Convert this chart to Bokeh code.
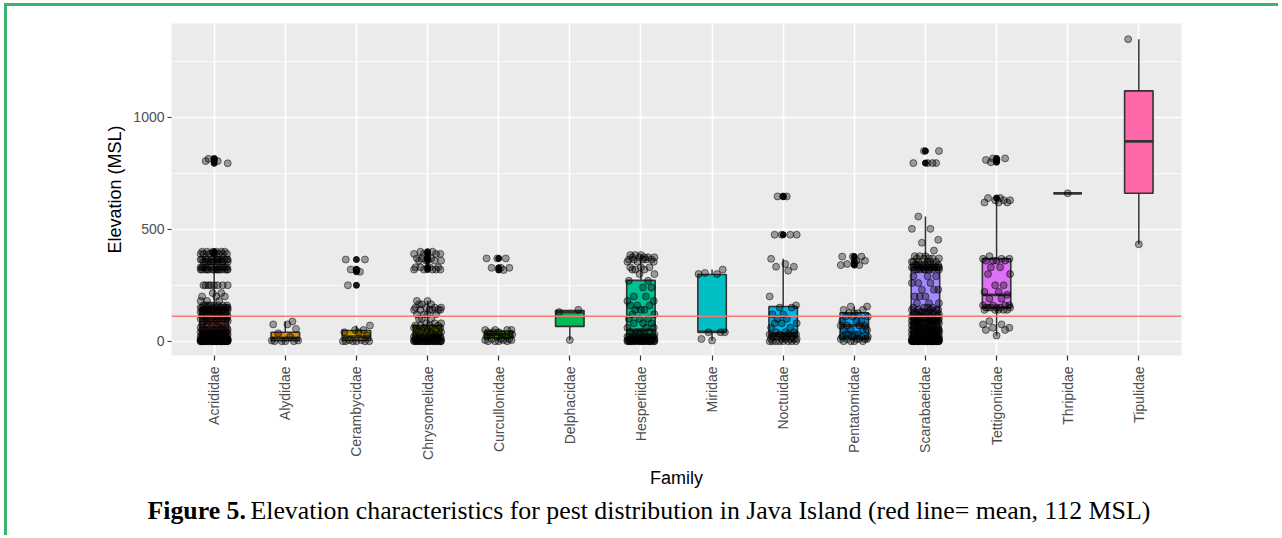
import numpy as np
from bokeh.plotting import figure
from bokeh.models import FixedTicker, Span, ColumnDataSource
from bokeh.core.properties import value
from bokeh.embed import file_html
from bokeh.resources import INLINE

# ---------------- data ----------------
FAMILIES = ["Acrididae", "Alydidae", "Cerambycidae", "Chrysomelidae", "Curcullonidae",
            "Delphacidae", "Hesperiidae", "Miridae", "Noctuidae", "Pentatomidae",
            "Scarabaeidae", "Tettigoniidae", "Thripidae", "Tipulidae"]
BOX_COLORS = ["#F8766D", "#E38900", "#C49A00", "#99A800", "#53B400", "#00BC56", "#00C094",
              "#00BFC4", "#00B6EB", "#06A4FF", "#A58AFF", "#DF70F8", "#FB61D7", "#FF66A8"]

# boxplot statistics (elevation, MSL)
Q1 = [5, 2, 3, 5, 15, 66, 8, 40, 22, 10, 5, 150, 661, 661]
MEDIAN = [40, 15, 20, 25, 30, 130, 50, 42, 35, 70, 90, 207, 661, 893]
Q3 = [150, 40, 48, 70, 45, 137, 272, 298, 155, 127, 330, 368, 661, 1119]
WHISK_LO = [0, 0, 0, 0, 0, 5, 0, 3, 0, 0, 0, 25, 661, 433]
WHISK_HI = [365, 88, 70, 180, 55, 140, 386, 320, 368, 155, 557, 633, 661, 1350]

MEAN_ELEVATION = 112

CAPTION_BOLD = "Figure 5."
CAPTION_TEXT = "Elevation characteristics for pest distribution in Java Island (red line= mean, 112 MSL)"

# observed points: elevation values and how many points sit at each
ACRIDIDAE_V = [0, 5, 10, 20, 30, 40, 50, 60, 75, 90, 100, 110, 120, 130, 140, 150, 160, 180, 200,
               215, 250, 320, 330, 355, 365, 390, 400, 795, 805, 815]
ACRIDIDAE_N = [30, 20, 15, 12, 10, 8, 8, 6, 6, 6, 8, 6, 6, 8, 8, 10, 8, 3, 3,
               2, 8, 14, 10, 10, 12, 8, 6, 1, 2, 2]
ALYDIDAE_V = [0, 3, 20, 35, 55, 75, 88]
ALYDIDAE_N = [4, 2, 1, 1, 1, 2, 1]
CERAMBYCIDAE_V = [0, 5, 25, 40, 50, 70, 250, 310, 320, 365]
CERAMBYCIDAE_N = [6, 2, 1, 2, 2, 1, 1, 1, 2, 2]
CHRYSOMELIDAE_V = [0, 5, 10, 20, 30, 40, 50, 60, 70, 80, 100, 120, 140, 150, 165, 180,
                   320, 330, 360, 370, 390, 400]
CHRYSOMELIDAE_N = [22, 8, 6, 6, 4, 4, 4, 4, 4, 3, 3, 4, 6, 4, 3, 2,
                   5, 4, 4, 4, 4, 2]
CURCULLONIDAE_V = [0, 5, 10, 20, 30, 40, 50, 318, 328, 370]
CURCULLONIDAE_N = [4, 3, 3, 3, 3, 3, 4, 1, 3, 3]
DELPHACIDAE_V = [5, 130, 140]
DELPHACIDAE_N = [1, 1, 1]
HESPERIIDAE_V = [0, 5, 10, 20, 30, 40, 60, 80, 100, 120, 140, 160, 180, 200, 240, 270,
                 300, 320, 330, 355, 365, 375, 385]
HESPERIIDAE_N = [20, 10, 8, 8, 5, 4, 3, 3, 3, 2, 3, 3, 2, 2, 2, 2,
                 2, 3, 3, 3, 5, 5, 3]
MIRIDAE_V = [3, 10, 40, 300, 305, 320]
MIRIDAE_N = [1, 1, 3, 2, 1, 1]
NOCTUIDAE_V = [0, 10, 20, 30, 40, 60, 80, 100, 120, 150, 160, 200, 315, 333, 345, 368, 476, 647]
NOCTUIDAE_N = [8, 6, 6, 4, 3, 2, 3, 2, 2, 2, 1, 1, 1, 2, 1, 1, 4, 3]
PENTATOMIDAE_V = [0, 10, 20, 30, 50, 70, 90, 110, 125, 140, 155, 340, 345, 360, 378]
PENTATOMIDAE_N = [4, 6, 4, 4, 4, 4, 3, 3, 3, 2, 2, 2, 1, 2, 3]
SCARABAEIDAE_V = [0, 5, 10, 20, 30, 40, 50, 60, 70, 80, 90, 100, 110, 120, 130, 140, 150,
                  170, 200, 230, 260, 290, 320, 330, 340, 355, 370, 380, 405, 440, 453,
                  502, 557, 796, 850]
SCARABAEIDAE_N = [30, 15, 12, 12, 10, 10, 10, 8, 8, 8, 8, 8, 6, 6, 6, 5, 4,
                  3, 3, 3, 3, 3, 8, 12, 8, 6, 5, 3, 1, 1, 1,
                  2, 1, 4, 2]
TETTIGONIIDAE_V = [25, 50, 60, 75, 90, 140, 150, 160, 190, 207, 220, 250, 300, 330, 360, 368,
                   380, 620, 630, 640, 800, 810, 817]
TETTIGONIIDAE_N = [1, 2, 2, 2, 1, 5, 6, 4, 2, 1, 2, 2, 2, 2, 4, 3,
                   1, 3, 3, 2, 1, 2, 2]
THRIPIDAE_V = [661]
THRIPIDAE_N = [1]
TIPULIDAE_V = [433, 1350]
TIPULIDAE_N = [1, 1]

POINT_TABLES = [
    (ACRIDIDAE_V, ACRIDIDAE_N), (ALYDIDAE_V, ALYDIDAE_N), (CERAMBYCIDAE_V, CERAMBYCIDAE_N),
    (CHRYSOMELIDAE_V, CHRYSOMELIDAE_N), (CURCULLONIDAE_V, CURCULLONIDAE_N),
    (DELPHACIDAE_V, DELPHACIDAE_N), (HESPERIIDAE_V, HESPERIIDAE_N), (MIRIDAE_V, MIRIDAE_N),
    (NOCTUIDAE_V, NOCTUIDAE_N), (PENTATOMIDAE_V, PENTATOMIDAE_N),
    (SCARABAEIDAE_V, SCARABAEIDAE_N), (TETTIGONIIDAE_V, TETTIGONIIDAE_N),
    (THRIPIDAE_V, THRIPIDAE_N), (TIPULIDAE_V, TIPULIDAE_N),
]

# fixed horizontal spread pattern for the jittered points (fraction of a category)
SPREAD = [0.0, -0.15, 0.12, -0.05, 0.18, -0.19, 0.07, -0.10, 0.15, 0.03,
          -0.17, 0.10, -0.02, 0.19, -0.12, 0.05, -0.08]

# ---------------- build sources ----------------
xs = list(range(1, len(FAMILIES) + 1))
box_src = ColumnDataSource(dict(x=xs, q1=Q1, med=MEDIAN, q3=Q3, lo=WHISK_LO, hi=WHISK_HI,
                                color=BOX_COLORS,
                                left=[x - 0.2 for x in xs], right=[x + 0.2 for x in xs]))

px, py, ox, oy = [], [], [], []
for i, (vals, cnts) in enumerate(POINT_TABLES):
    k = 0
    for v, c in zip(vals, cnts):
        if v < WHISK_LO[i] or v > WHISK_HI[i]:
            ox.append(i + 1)
            oy.append(v)
        for _ in range(c):
            px.append(i + 1 + SPREAD[k % len(SPREAD)])
            py.append(v)
            k += 1

W = 1274
GREEN = "#3CB371"

# ---------------- main figure ----------------
p = figure(width=W, height=489, x_range=(0.4, 14.6), y_range=(-64, 1420),
           output_backend="svg", toolbar_location=None,
           min_border_left=164, min_border_right=W - 1174, min_border_top=17, min_border_bottom=140,
           background_fill_color="#EBEBEB", border_fill_color="white", outline_line_color=None)
p.styles = {"border-top": f"3px solid {GREEN}", "border-left": f"3px solid {GREEN}",
            "margin-left": "4px", "margin-top": "3px"}

xt = FixedTicker(ticks=xs)
yt = FixedTicker(ticks=[0, 500, 1000], minor_ticks=[250, 750, 1250])
p.xaxis.ticker = xt
p.yaxis.ticker = yt
p.xgrid.ticker = xt
p.ygrid.ticker = yt
p.xgrid.grid_line_color = "white"
p.xgrid.grid_line_width = 1.6
p.ygrid.grid_line_color = "white"
p.ygrid.grid_line_width = 1.6
p.ygrid.minor_grid_line_color = "white"
p.ygrid.minor_grid_line_width = 0.8

p.xaxis.major_label_overrides = {x: f for x, f in zip(xs, FAMILIES)}
p.xaxis.major_label_orientation = np.pi / 2
for ax in (p.xaxis, p.yaxis):
    ax.axis_line_color = None
    ax.major_tick_line_color = "#333333"
    ax.major_tick_line_width = 1.2
    ax.major_tick_in = 0
    ax.minor_tick_line_color = None
    ax.major_label_text_font = "Liberation Sans"
    ax.major_label_text_font_size = "14px"
    ax.major_label_text_color = "#4D4D4D"
    ax.axis_label_text_font = "Liberation Sans"
    ax.axis_label_text_font_size = "18px"
    ax.axis_label_text_font_style = "normal"
    ax.axis_label_text_color = "black"
p.xaxis.major_tick_out = 5
p.yaxis.major_tick_out = 4
p.xaxis.major_label_standoff = 6
p.yaxis.major_label_standoff = 3
p.xaxis.axis_label = "Family"
p.yaxis.axis_label = "Elevation (MSL)"
p.xaxis.axis_label_standoff = 5
p.yaxis.axis_label_standoff = 5

# boxes
p.segment(x0="x", y0="q3", x1="x", y1="hi", source=box_src, line_color="#333333", line_width=1.5)
p.segment(x0="x", y0="q1", x1="x", y1="lo", source=box_src, line_color="#333333", line_width=1.5)
p.vbar(x="x", width=0.4, bottom="q1", top="q3", source=box_src, fill_color="color",
       line_color="#333333", line_width=1.6)
p.segment(x0="left", y0="med", x1="right", y1="med", source=box_src, line_color="#333333",
          line_width=2.8)

# outliers and jittered points
p.scatter(ox, oy, size=6, fill_color="black", line_color="black", alpha=0.9)
p.scatter(px, py, size=7, fill_color="black", fill_alpha=0.35, line_color="black", line_alpha=0.5)

p.add_layout(Span(location=MEAN_ELEVATION, dimension="width", line_color="#F47A75", line_width=1.5))

# ---------------- caption strip (separate root, not frame-aligned) ----------------
CH = 43
cap = figure(width=W, height=CH, x_range=(0, W), y_range=(0, CH), output_backend="svg",
             toolbar_location=None, min_border=0, outline_line_color=None,
             background_fill_color="white", border_fill_color="white")
cap.styles = {"border-left": f"3px solid {GREEN}", "margin-left": "4px"}
cap.axis.visible = False
cap.grid.visible = False
cap.text(x=[140], y=[CH - 18], text=[CAPTION_BOLD], text_font=value("Liberation Serif"),
         text_font_size="25.8px", text_font_style="bold", text_baseline="middle", text_color="black")
cap.text(x=[243], y=[CH - 18], text=[CAPTION_TEXT], text_font=value("Liberation Serif"),
         text_font_size="25.8px", text_baseline="middle", text_color="black")

open("out.html", "w").write(file_html([p, cap], INLINE))
